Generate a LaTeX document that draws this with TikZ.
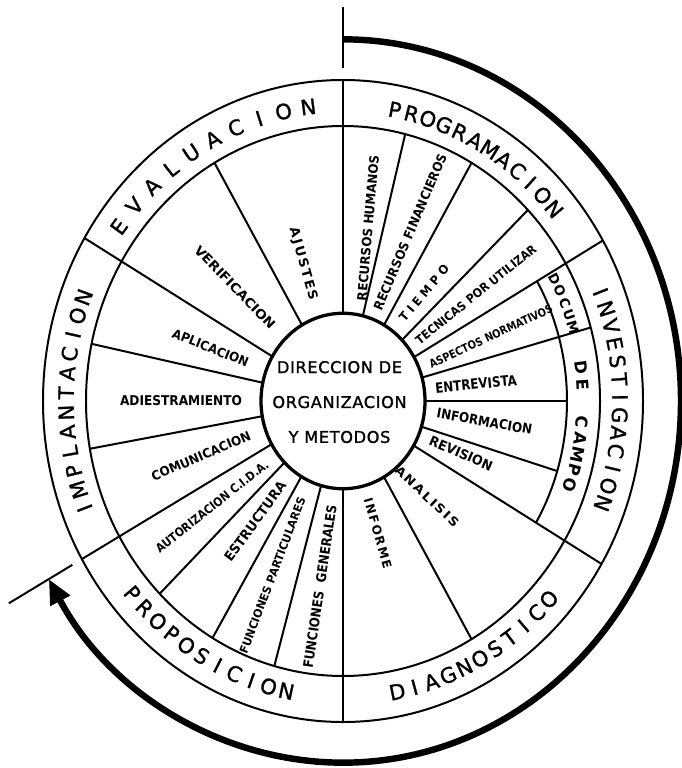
\documentclass[tikz,border=0pt]{standalone}
\usepackage{fontspec}
\usepackage{graphicx}
\setmainfont{DejaVu Sans}
\newfontfamily\spacedfont[LetterSpace=14]{DejaVu Sans}
\newfontfamily\hubfont[LetterSpace=4,FakeBold=1.2]{DejaVu Sans}
\newfontfamily\bandfont[FakeBold=1.2]{DejaVu Sans}
\usetikzlibrary{arrows.meta}
\newlength\pxunit
\setlength\pxunit{0.03cm}

\begin{document}
\begin{tikzpicture}[x=0.03cm,y=0.03cm,
  wheel/.style={line width=1.7pt},
  hub/.style={line width=2.8pt},
  flowarc/.style={line width=5.5pt,-{Triangle[length=21pt,width=18pt]}},
  bandletter/.style={inner sep=0pt,font=\bandfont\fontsize{18}{18}\selectfont},
  campoletter/.style={inner sep=0pt,font=\bfseries\fontsize{14}{14}\selectfont},
  docletter/.style={inner sep=0pt,font=\bfseries\fontsize{11.5}{11.5}\selectfont},
  seclabel/.style={inner sep=0pt,font=\bfseries}]
  \useasboundingbox (0,0) rectangle (681,-768);
  \begin{scope}[shift={(343,-401)},yscale=1.07]
    % rings
    \draw[hub] (0,0) circle (82);
    \draw[wheel] (0,0) circle (257);
    \draw[wheel] (0,0) circle (300);
    \draw[wheel] (30:224) arc[start angle=30,end angle=-30.5,radius=224];
    % spokes
    \foreach \a/\r in {90/300,76/257,60/257,44/257,30/300,15.5/257,0/224,-17/224,
                       -30.5/300,-60/257,-90/300,-105.5/257,-120.5/257,-135.5/257,
                       -150.5/300,-170/257,168/257,149.5/300,120/257}
      \draw[wheel] (\a:82) -- (\a:\r);
    % cycle arrow
    \draw[wheel] (90:311) -- (90:368);
    \draw[wheel] (209.5:311) -- (209.5:384);
    \draw[flowarc] (90:338) arc[start angle=90,end angle=-150.5,radius=338];
    % centre
    \node[font=\hubfont\fontsize{13.8}{29.8}\selectfont,align=center,inner sep=0pt]
      (hub) at (-3.5,-1) {DIRECCION DE\\ORGANIZACION\\Y METODOS};
    % phase names in the outer band
    \foreach \word/\start/\step/\turn [count=\k] in {
        {E,V,A,L,U,A,C,I,O,N}/144/-5.2/-90,
        {P,R,O,G,R,A,M,A,C,I,O,N}/79.2/-3.53/-90,
        {I,N,V,E,S,T,I,G,A,C,I,O,N}/21.6/-3.48/-90,
        {D,I,A,G,N,O,S,T,I,C,O}/-78.7/3.67/90,
        {P,R,O,P,O,S,I,C,I,O,N}/220.5/3.77/90,
        {I,M,P,L,A,N,T,A,C,I,O,N}/201.2/-3.79/-90}
      \foreach \l [count=\i] in \word {
        \pgfmathsetmacro\ang{\start+(\i-1)*(\step)}
        \pgfmathsetmacro\tilt{\ang+(\turn)}
        \node[bandletter,rotate=\tilt] (band\k-\i) at (\ang:277) {\l};
      }
    \foreach \l/\a [count=\i] in {D/28.3,O/25.4,C/22.5,U/19.6,M/16.7}
      \node[docletter,rotate=\a-90] (doc\i) at (\a:240) {\l};
    \foreach \l/\a [count=\i] in {D/7.5,E/3.6,C/-4.6,A/-8.4,M/-12.1,P/-15.6,O/-19}
      \node[campoletter,rotate=\a-90] (campo\i) at (\a:240) {\l};
    % activities
    \foreach \a/\r/\rot/\w/\h/\txt [count=\i] in {
        81.2/163.6/85/146/9.5/RECURSOS HUMANOS,
        67/171.6/67/168/9.5/RECURSOS FINANCIEROS,
        51.2/129.4/50/70/9/T I E M P O,
        36.8/166/38.8/151/9/TECNICAS POR UTILIZAR,
        22.2/159.8/25/135/8.5/ASPECTOS NORMATIVOS,
        6.8/134/5.6/82/10.5/ENTREVISTA,
        -7.7/142.8/-10/96.5/10/INFORMACION,
        -22.5/127.8/-23.5/67.6/10/REVISION,
        -46.7/122.6/-43.5/82.7/9/{\spacedfont ANALISIS},
        -74.2/128.3/-74/73/9/{\spacedfont INFORME},
        -97.6/174.9/81.6/165/10/FUNCIONES\ \ GENERALES,
        -113.4/177.7/69.2/166/8.5/FUNCIONES PARTICULARES,
        -128/142.9/54/95/10/ESTRUCTURA,
        -143/164/38.3/140/9/AUTORIZACION C.I.D.A.,
        -160.1/151/23.2/106.6/9.5/COMUNICACION,
        179.7/162/0/122/10/ADIESTRAMIENTO,
        159.5/141.4/-21.8/81/9.5/APLICACION,
        135.5/151.4/-46/110/9.5/VERIFICACION,
        107.4/134.1/-74.5/75/9.5/{\spacedfont AJUSTES}}
      \node[seclabel,rotate=\rot] (sec\i) at (\a:\r) {\resizebox{\w\pxunit}{\h\pxunit}{\txt}};
  \end{scope}
\end{tikzpicture}
\end{document}
